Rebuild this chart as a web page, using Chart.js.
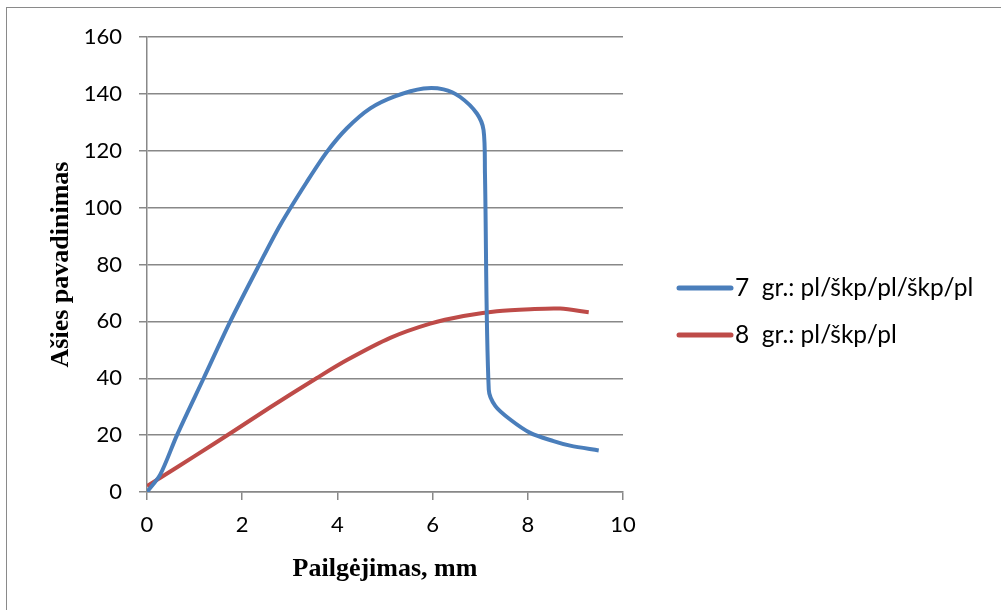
<!DOCTYPE html>
<html>
<head>
    <meta charset="UTF-8">
    <title>Pailgėjimas</title>
    <script src="https://cdn.jsdelivr.net/npm/chart.js@4/dist/chart.umd.min.js"></script>
    <style>
        body { margin: 0; background: #fff; }
        #wrap { position: relative; width: 1001px; height: 610px; overflow: hidden; }
        #frame { position: absolute; left: 6px; top: 7px; width: 1010px; height: 620px; border: 1px solid #8a8a8a; }
        canvas { position: absolute; left: 0; top: 0; }
    </style>
</head>
<body>
<div id="wrap">
    <div id="frame"></div>
    <canvas id="myChart" width="1001" height="610"></canvas>
</div>
<script>
    // series
    var labels = ['7  gr.: pl/škp/pl/škp/pl', '8  gr.: pl/škp/pl'];

    var x7 = [0, 0.28, 0.63, 1.19, 1.75, 2.36, 2.80, 3.36, 3.78, 4.20, 4.69, 5.22, 5.81, 6.23, 6.58, 6.93, 7.07, 7.10, 7.18, 7.32, 7.63, 8.05, 8.54, 8.89, 9.49];
    var y7 = [0, 6.2, 20, 40, 60, 80, 93.9, 109.1, 119.6, 127.9, 134.9, 139.2, 141.9, 141.6, 138.9, 133.1, 127.3, 112, 36, 30.2, 25.5, 20.8, 17.9, 16.3, 14.6];

    var x8 = [0, 0.28, 1.0, 1.8, 2.59, 3.57, 4.2, 5.11, 5.95, 6.65, 7.35, 8.05, 8.68, 9.28];
    var y8 = [2.1, 5.0, 12.6, 21.2, 29.8, 40.1, 46.4, 54.2, 59.2, 61.9, 63.6, 64.3, 64.5, 63.2];

    var xTicks = [0, 2, 4, 6, 8, 10];
    var yTicks = [0, 20, 40, 60, 80, 100, 120, 140, 160];

    function pts(xs, ys) {
        return xs.map(function (x, i) { return { x: x, y: ys[i] }; });
    }

    var legendPlugin = {
        id: 'sideLegend',
        afterDraw: function (chart) {
            var ctx = chart.ctx;
            ctx.save();
            chart.data.datasets.forEach(function (ds, i) {
                var y = 288 + i * 47;
                ctx.strokeStyle = ds.borderColor;
                ctx.lineWidth = 5;
                ctx.lineCap = 'round';
                ctx.beginPath();
                ctx.moveTo(679, y);
                ctx.lineTo(731, y);
                ctx.stroke();
                ctx.fillStyle = '#000';
                ctx.font = '24.5px Lato';
                ctx.textBaseline = 'middle';
                ctx.fillText(ds.label, 735, y);
            });
            ctx.restore();
        }
    };

    const data = {
        datasets: [{
            label: labels[0],
            data: pts(x7, y7),
            borderColor: '#4a7ebb',
            borderWidth: 4,
            showLine: true,
            pointRadius: 0,
            tension: 0.3
        }, {
            label: labels[1],
            data: pts(x8, y8),
            borderColor: '#be4b48',
            borderWidth: 4,
            showLine: true,
            pointRadius: 0,
            tension: 0.3
        }]
    };

    const config = {
        type: 'scatter',
        data,
        plugins: [legendPlugin],
        options: {
            responsive: false,
            animation: false,
            layout: { padding: { left: 0, top: 37, right: 378, bottom: 0 } },
            plugins: { legend: { display: false }, tooltip: { enabled: false } },
            scales: {
                x: {
                    type: 'linear',
                    min: 0, max: 10,
                    afterBuildTicks: function (s) { s.ticks = xTicks.map(function (v) { return { value: v }; }); },
                    afterFit: function (s) { s.height = 118; },
                    grid: { drawOnChartArea: false, color: '#888', lineWidth: 1.5, tickLength: 8 },
                    border: { color: '#888', width: 1.5 },
                    ticks: { color: '#000', font: { family: 'Lato', size: 22 }, padding: 12, maxRotation: 0 },
                    title: { display: true, text: 'Pailgėjimas, mm', color: '#000', font: { family: 'Liberation Serif', size: 26, weight: 'bold' }, padding: { top: 0, bottom: 25 } }
                },
                y: {
                    min: 0, max: 160,
                    afterBuildTicks: function (s) { s.ticks = yTicks.map(function (v) { return { value: v }; }); },
                    afterFit: function (s) { s.width = 147; },
                    grid: { color: '#888', lineWidth: 1.5, tickLength: 8 },
                    border: { color: '#888', width: 1.5 },
                    ticks: { color: '#000', font: { family: 'Lato', size: 22 }, padding: 17 },
                    title: { display: true, text: 'Ašies pavadinimas', color: '#000', font: { family: 'Liberation Serif', size: 26, weight: 'bold' }, padding: { top: 46, bottom: 0 } }
                }
            }
        }
    };

    var myChart = new Chart(document.getElementById('myChart'), config);
</script>
</body>
</html>
